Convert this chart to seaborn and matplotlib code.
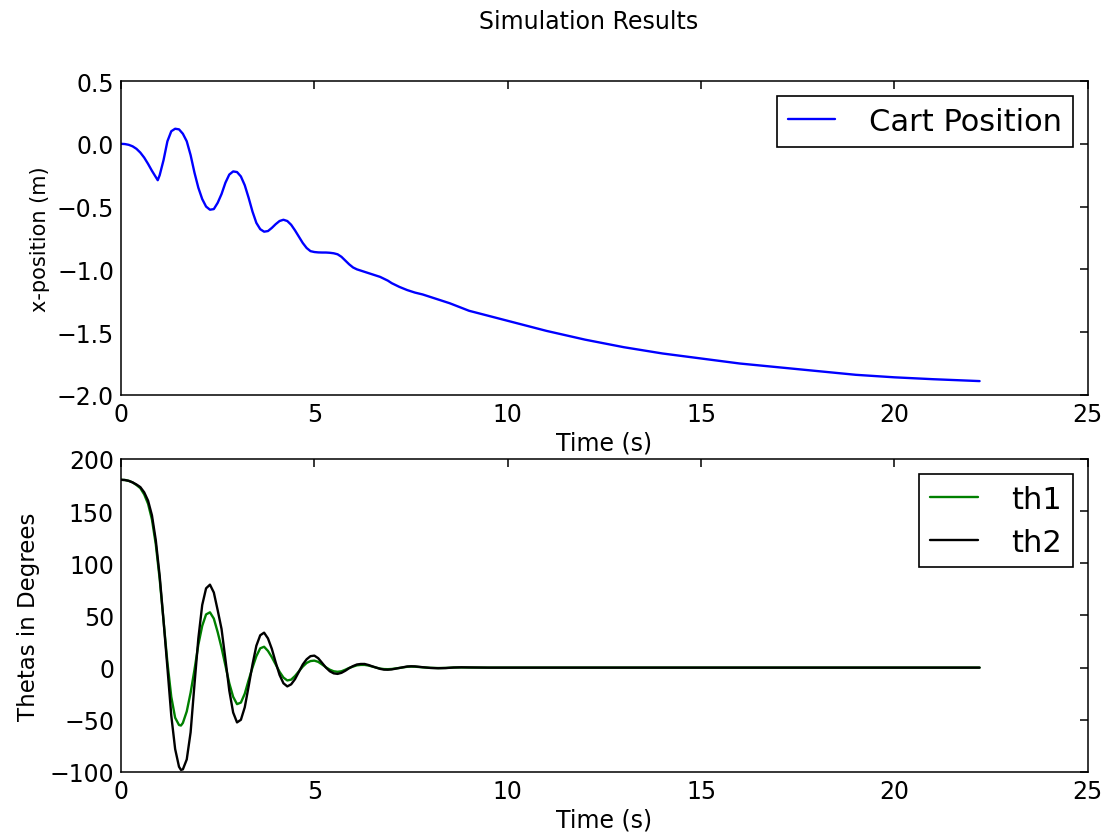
import matplotlib
matplotlib.use("Agg")
import matplotlib.pyplot as plt
import seaborn as sns

# cart position (m) vs time (s)
t_cart = [0.0, 0.1, 0.2, 0.3, 0.4, 0.5, 0.6, 0.7, 0.8, 0.9, 0.95,
          1.0, 1.1, 1.2, 1.3, 1.4, 1.5, 1.6, 1.7, 1.8, 1.9,
          2.0, 2.1, 2.2, 2.3, 2.4, 2.5, 2.6, 2.7, 2.8, 2.9,
          3.0, 3.1, 3.2, 3.3, 3.4, 3.5, 3.6, 3.7, 3.8, 3.9,
          4.0, 4.1, 4.2, 4.3, 4.4, 4.5, 4.6, 4.7, 4.8, 4.9,
          5.0, 5.1, 5.2, 5.3, 5.4, 5.5, 5.6, 5.7, 5.8, 5.9,
          6.0, 6.1, 6.2, 6.3, 6.4, 6.5, 6.6, 6.7, 6.8, 6.9,
          7.0, 7.2, 7.4, 7.6, 7.8, 8.0, 8.5, 9.0, 9.5, 10.0,
          11.0, 12.0, 13.0, 14.0, 15.0, 16.0, 17.0, 18.0, 19.0, 20.0,
          21.0, 22.2]
x_cart = [0.0, -0.002, -0.008, -0.02, -0.04, -0.07, -0.11, -0.16, -0.215, -0.265, -0.29,
          -0.25, -0.13, 0.02, 0.10, 0.12, 0.115, 0.08, 0.02, -0.09, -0.23,
          -0.35, -0.44, -0.50, -0.525, -0.52, -0.47, -0.40, -0.31, -0.245, -0.22,
          -0.225, -0.26, -0.33, -0.43, -0.54, -0.63, -0.68, -0.70, -0.695, -0.67,
          -0.64, -0.615, -0.605, -0.615, -0.645, -0.69, -0.74, -0.79, -0.83, -0.855,
          -0.862, -0.865, -0.866, -0.866, -0.868, -0.872, -0.88, -0.90, -0.93, -0.96,
          -0.985, -1.0, -1.01, -1.02, -1.03, -1.04, -1.05, -1.06, -1.075, -1.09,
          -1.11, -1.14, -1.165, -1.185, -1.20, -1.22, -1.27, -1.33, -1.37, -1.41,
          -1.49, -1.56, -1.62, -1.67, -1.71, -1.75, -1.78, -1.81, -1.84, -1.86,
          -1.875, -1.89]

# pendulum angles (deg) vs time (s)
t_th = [0.0, 0.1, 0.2, 0.3, 0.4, 0.5, 0.6, 0.7, 0.8, 0.9,
        1.0, 1.1, 1.2, 1.3, 1.4, 1.5, 1.55, 1.6, 1.7, 1.8, 1.9,
        2.0, 2.1, 2.2, 2.3, 2.4, 2.5, 2.6, 2.7, 2.8, 2.9,
        3.0, 3.1, 3.2, 3.3, 3.4, 3.5, 3.6, 3.7, 3.8, 3.9,
        4.0, 4.1, 4.2, 4.3, 4.4, 4.5, 4.6, 4.7, 4.8, 4.9,
        5.0, 5.1, 5.2, 5.3, 5.4, 5.5, 5.6, 5.7, 5.8, 5.9,
        6.0, 6.1, 6.2, 6.3, 6.4, 6.5, 6.6, 6.7, 6.8, 6.9,
        7.0, 7.2, 7.4, 7.5, 7.6, 7.8, 8.0, 8.2, 8.4, 8.6,
        8.8, 9.0, 9.5, 10.0, 12.0, 14.0, 16.0, 18.0, 20.0, 22.2]
th1 = [180, 179.8, 179, 177.5, 175, 172, 166, 157, 142, 118,
       85, 45, 5, -28, -48, -55, -55.5, -53, -42, -24, -2,
       22, 40, 51, 53, 47, 34, 19, 2, -15, -28,
       -35, -33.5, -25, -12, 0, 11, 18.5, 20, 16, 10,
       3, -4, -9.5, -12.3, -11.5, -8, -3.5, 1, 4.5, 6.3,
       6.7, 5.5, 3, 0.3, -2, -3.5, -4, -3.5, -2, -0.3,
       1, 2.2, 2.6, 2.6, 2, 1, 0, -0.9, -1.4, -1.5,
       -1.3, -0.3, 0.8, 1, 0.9, 0.3, -0.2, -0.4, -0.3, 0.1,
       0.2, 0.1, 0, 0, 0, 0, 0, 0, 0, 0]
th2 = [180, 179.8, 179, 177.5, 175.5, 173, 168, 160, 146, 122,
       88, 45, 0, -46, -78, -95, -98, -97.5, -88, -62, -16,
       28, 60, 76, 79.5, 72, 55, 37, 8, -22, -43,
       -52.5, -50, -38, -18, 3, 21, 31, 33.5, 28, 18,
       5, -7, -15, -18, -16, -11, -4, 3, 8, 11,
       11.5, 9, 4.5, 0, -3.5, -5.5, -6, -5, -3, -0.5,
       1.5, 3, 3.5, 3.5, 2.5, 1.2, 0, -1.2, -1.9, -2,
       -1.7, -0.3, 1.1, 1.3, 1.2, 0.4, -0.3, -0.6, -0.4, 0.1,
       0.3, 0.2, 0, 0, 0, 0, 0, 0, 0, 0]

sns.set_style("white")
plt.rcParams['font.family'] = ['DejaVu Sans']
plt.rcParams['text.color'] = 'black'
plt.rcParams['axes.labelcolor'] = 'black'
plt.rcParams['xtick.color'] = 'black'
plt.rcParams['ytick.color'] = 'black'
plt.rcParams['xtick.direction'] = 'in'
plt.rcParams['ytick.direction'] = 'in'
plt.rcParams['xtick.top'] = True
plt.rcParams['ytick.right'] = True
plt.rcParams['xtick.major.size'] = 6
plt.rcParams['ytick.major.size'] = 6
plt.rcParams['xtick.major.pad'] = 5
plt.rcParams['ytick.major.pad'] = 5
plt.rcParams['axes.edgecolor'] = 'black'
plt.rcParams['axes.linewidth'] = 1.1

fig = plt.figure(figsize=(11.05, 8.37), dpi=100)
ax1 = fig.add_axes([0.1095, 0.527, 0.875, 0.375])
ax2 = fig.add_axes([0.1095, 0.0765, 0.875, 0.374])

sns.lineplot(x=t_cart, y=x_cart, ax=ax1, color='#0000ff', linewidth=1.7,
             label='Cart Position', sort=False)
sns.lineplot(x=t_th, y=th1, ax=ax2, color='#008000', linewidth=1.7,
             label='th1', sort=False)
sns.lineplot(x=t_th, y=th2, ax=ax2, color='black', linewidth=1.7,
             label='th2', sort=False)

ax1.set_xlim(0, 25)
ax1.set_ylim(-2.0, 0.5)
ax1.set_yticks([0.5, 0.0, -0.5, -1.0, -1.5, -2.0])
ax2.set_xlim(0, 25)
ax2.set_ylim(-100, 200)
ax2.set_yticks([200, 150, 100, 50, 0, -50, -100])
for ax in (ax1, ax2):
    ax.set_xticks([0, 5, 10, 15, 20, 25])
    ax.tick_params(labelsize=17, width=1.1)
    ax.set_xlabel('Time (s)', fontsize=17, labelpad=3)

ax1.set_ylabel('x-position (m)', fontsize=15, labelpad=5)
ax2.set_ylabel('Thetas in Degrees', fontsize=16.5, labelpad=7)

leg_kw = dict(loc='upper right', fontsize=22, fancybox=False, framealpha=1,
              edgecolor='black', handlelength=1.55, handletextpad=1.1,
              borderpad=0.35, borderaxespad=0.5, labelspacing=0.45)
l1 = ax1.legend(**leg_kw)
l2 = ax2.legend(**leg_kw)
for lg in (l1, l2):
    lg.get_frame().set_linewidth(1.2)

fig.text(0.533, 0.974, 'Simulation Results', ha='center', va='center',
         fontsize=17)

fig.savefig('out.png', dpi=100)
